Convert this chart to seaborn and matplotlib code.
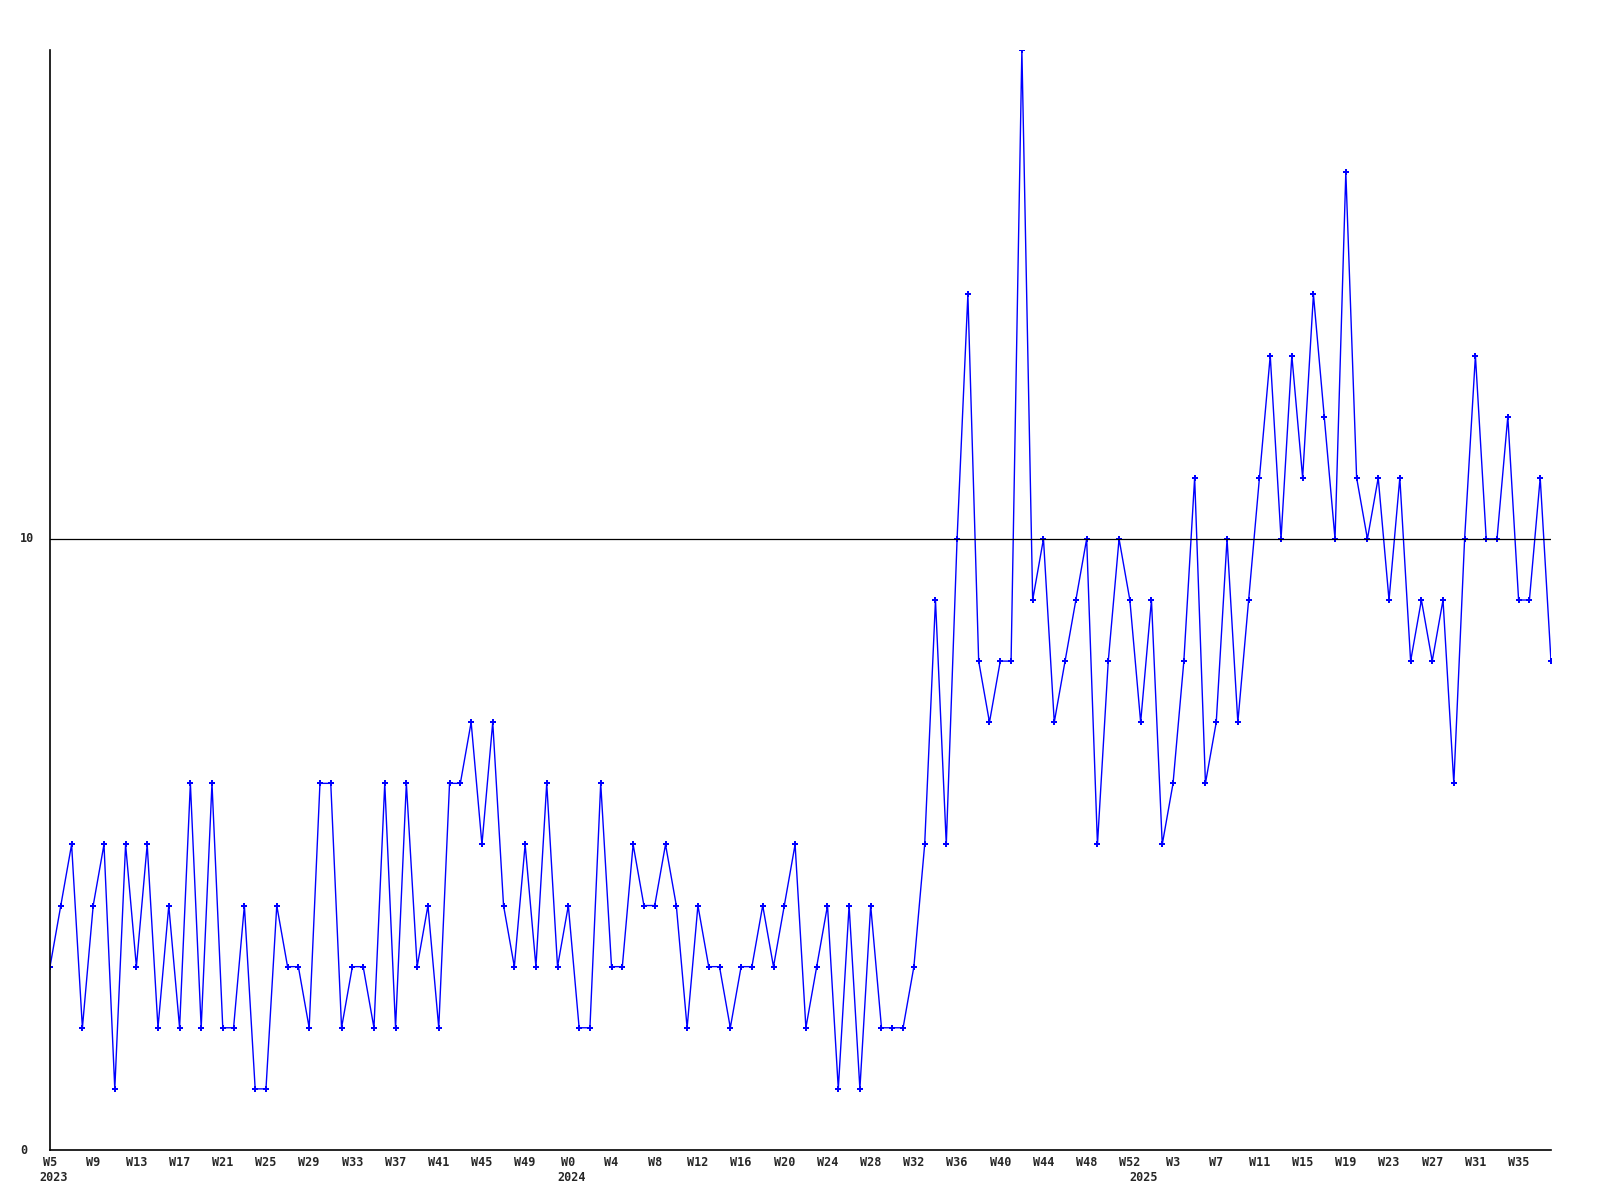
import pandas as pd
import matplotlib
matplotlib.use("Agg")
import matplotlib.pyplot as plt
import matplotlib.transforms as mtransforms
import seaborn as sns

# weekly counts, 2023 W5 .. 2025 W38
values = [3, 4, 5, 2, 4, 5, 1, 5, 3, 5, 2, 4, 2, 6, 2, 6, 2, 2, 4, 1,
          1, 4, 3, 3, 2, 6, 6, 2, 3, 3, 2, 6, 2, 6, 3, 4, 2, 6, 6, 7,
          5, 7, 4, 3, 5, 3, 6, 3, 4, 2, 2, 6, 3, 3, 5, 4, 4, 5, 4, 2,
          4, 3, 3, 2, 3, 3, 4, 3, 4, 5, 2, 3, 4, 1, 4, 1, 4, 2, 2, 2,
          3, 5, 9, 5, 10, 14, 8, 7, 8, 8, 18, 9, 10, 7, 8, 9, 10, 5, 8, 10,
          9, 7, 9, 5, 6, 8, 11, 6, 7, 10, 7, 9, 11, 13, 10, 13, 11, 14, 12, 10,
          16, 11, 10, 11, 9, 11, 8, 9, 8, 9, 6, 10, 13, 10, 10, 12, 9, 9, 11, 8]

years = [2023, 2024, 2025]
first_week = [5, 0, 0]
last_week = [52, 52, 38]
threshold = 10
ytick_vals = [0, threshold]

weeks = []
year_col = []
for y, a, b in zip(years, first_week, last_week):
    for w in range(a, b + 1):
        weeks.append(w)
        year_col.append(y)

df = pd.DataFrame({"idx": range(len(values)), "value": values,
                   "week": weeks, "year": year_col})

sns.set_style("white")
plt.rcParams["font.family"] = ["DejaVu Sans Mono"]

fig = plt.figure(figsize=(16, 12), dpi=100)
ax = fig.add_axes([50 / 1600, 50 / 1200, 1501 / 1600, 1100 / 1200])

sns.lineplot(data=df, x="idx", y="value", ax=ax, color="#0000ff",
             linewidth=1, marker="P", markersize=4.5,
             markeredgewidth=0, markerfacecolor="#0000ff")

ax.axhline(threshold, color="black", linewidth=0.9)

ax.set_xlim(0, len(values) - 1)
ax.set_ylim(0, 18)

for s in ["top", "right"]:
    ax.spines[s].set_visible(False)
for s in ["left", "bottom"]:
    ax.spines[s].set_color("black")
    ax.spines[s].set_linewidth(1.2)

# y labels sit left-aligned near the figure edge
ax.set_yticks(ytick_vals)
ax.set_yticklabels([])
ytrans = mtransforms.blended_transform_factory(fig.transFigure, ax.transData)
for v in ytick_vals:
    ax.text(20 / 1600, v, str(v), transform=ytrans, ha="left", va="center",
            fontsize=8.5, fontweight="bold")

ticks = df[df["idx"] % 4 == 0]
ax.set_xticks(ticks["idx"])
ax.set_xticklabels(["W%d" % w for w in ticks["week"]], fontsize=8.5,
                   fontweight="bold")
ax.tick_params(axis="both", length=0, pad=4)

# year labels under the first week of each year
trans = mtransforms.blended_transform_factory(ax.transData, ax.transAxes)
for y in years:
    i = df[df["year"] == y]["idx"].iloc[0]
    ax.text(i + 0.3, -0.025, str(y), transform=trans, ha="center", va="center",
            fontsize=8.5, fontweight="bold")

ax.set_xlabel("")
ax.set_ylabel("")

fig.savefig("out.png", dpi=100, facecolor="white")
